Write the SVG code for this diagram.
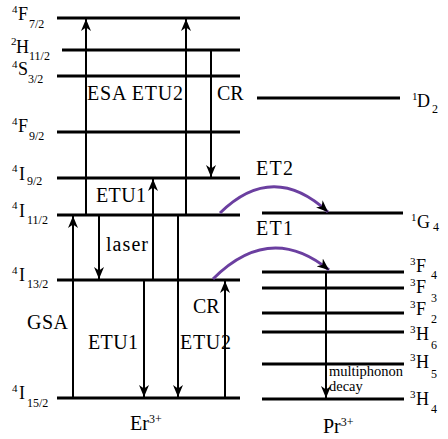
<svg xmlns="http://www.w3.org/2000/svg" width="448" height="439" viewBox="0 0 448 439">
<style>
.lvl{stroke:#000;stroke-width:3;fill:none}
.arr{stroke:#000;stroke-width:2;fill:none;marker-end:url(#ah)}
.et{stroke:#6b3fa0;stroke-width:3;fill:none;marker-end:url(#ah)}
text{font-family:"Liberation Serif","DejaVu Serif",serif;fill:#000}
.lb{font-size:20px}
.st{font-size:18px}
.sm{font-size:12px}
.ss{font-size:11px}
.mp{font-size:14.5px}
</style>
<defs>
<marker id="ah" markerUnits="userSpaceOnUse" viewBox="0 0 12 10" refX="12" refY="5" markerWidth="12" markerHeight="10" orient="auto">
<path d="M0,0 L12,5 L0,10 L3.5,5 Z" fill="#000"/>
</marker>
</defs>
<rect width="448" height="439" fill="#fff"/>
<g id="er-levels">
<g id="er-4F72"><line class="lvl" x1="57" y1="18" x2="240" y2="18"/><text class="st"><tspan class="ss" x="12" y="13">4</tspan><tspan x="18" y="20">F</tspan><tspan class="sm" x="29" y="28">7/2</tspan></text></g>
<g id="er-2H112"><line class="lvl" x1="62" y1="50" x2="240" y2="50"/><text class="st"><tspan class="ss" x="11" y="45">2</tspan><tspan x="16" y="53">H</tspan><tspan class="sm" x="29" y="60">11/2</tspan></text></g>
<g id="er-4S32"><line class="lvl" x1="57" y1="76" x2="240" y2="76"/><text class="st"><tspan class="ss" x="12" y="68">4</tspan><tspan x="18" y="75">S</tspan><tspan class="sm" x="28" y="83">3/2</tspan></text></g>
<g id="er-4F92"><line class="lvl" x1="57" y1="132" x2="240" y2="132"/><text class="st"><tspan class="ss" x="12" y="125">4</tspan><tspan x="18" y="132">F</tspan><tspan class="sm" x="29" y="140">9/2</tspan></text></g>
<g id="er-4I92"><line class="lvl" x1="57" y1="178" x2="240" y2="178"/><text class="st"><tspan class="ss" x="12" y="172">4</tspan><tspan x="19" y="180">I</tspan><tspan class="sm" x="27" y="185">9/2</tspan></text></g>
<g id="er-4I112"><line class="lvl" x1="57" y1="215" x2="240" y2="215"/><text class="st"><tspan class="ss" x="12" y="209">4</tspan><tspan x="19" y="217">I</tspan><tspan class="sm" x="27" y="224">11/2</tspan></text></g>
<g id="er-4I132"><line class="lvl" x1="57" y1="280" x2="240" y2="280"/><text class="st"><tspan class="ss" x="12" y="274">4</tspan><tspan x="19" y="281">I</tspan><tspan class="sm" x="27" y="288">13/2</tspan></text></g>
<g id="er-4I152"><line class="lvl" x1="57" y1="398" x2="240" y2="398"/><text class="st"><tspan class="ss" x="12" y="392">4</tspan><tspan x="19" y="399">I</tspan><tspan class="sm" x="27" y="407">15/2</tspan></text></g>
</g>
<g id="pr-levels">
<g id="pr-1D2"><line class="lvl" x1="257" y1="98" x2="400" y2="98"/><text class="st"><tspan class="ss" x="412" y="100">1</tspan><tspan x="417" y="107">D</tspan><tspan class="sm" x="432" y="113">2</tspan></text></g>
<g id="pr-1G4"><line class="lvl" x1="262" y1="213" x2="403" y2="213"/><text class="st"><tspan class="ss" x="411" y="221">1</tspan><tspan x="417" y="228">G</tspan><tspan class="sm" x="433" y="231">4</tspan></text></g>
<g id="pr-3F4"><line class="lvl" x1="262" y1="272" x2="404" y2="272"/><text class="st"><tspan class="ss" x="410" y="265">3</tspan><tspan x="416" y="272">F</tspan><tspan class="sm" x="431" y="279">4</tspan></text></g>
<g id="pr-3F3"><line class="lvl" x1="262" y1="288" x2="404" y2="288"/><text class="st"><tspan class="ss" x="410" y="286">3</tspan><tspan x="416" y="293">F</tspan><tspan class="sm" x="431" y="302">3</tspan></text></g>
<g id="pr-3F2"><line class="lvl" x1="262" y1="313" x2="404" y2="313"/><text class="st"><tspan class="ss" x="410" y="308">3</tspan><tspan x="416" y="315">F</tspan><tspan class="sm" x="431" y="323">2</tspan></text></g>
<g id="pr-3H6"><line class="lvl" x1="262" y1="332" x2="404" y2="332"/><text class="st"><tspan class="ss" x="410" y="333">3</tspan><tspan x="416" y="340">H</tspan><tspan class="sm" x="431" y="349">6</tspan></text></g>
<g id="pr-3H5"><line class="lvl" x1="262" y1="364" x2="404" y2="364"/><text class="st"><tspan class="ss" x="410" y="361">3</tspan><tspan x="416" y="368">H</tspan><tspan class="sm" x="431" y="378">5</tspan></text></g>
<g id="pr-3H4"><line class="lvl" x1="262" y1="399" x2="404" y2="399"/><text class="st"><tspan class="ss" x="410" y="398">3</tspan><tspan x="416" y="405">H</tspan><tspan class="sm" x="431" y="413">4</tspan></text></g>
</g>
<g id="connectors">
<path class="arr" d="M86,215 V19"/>
<path class="arr" d="M186,215 V19"/>
<path class="arr" d="M211,50 V177"/>
<path class="arr" d="M153,280 V179"/>
<path class="arr" d="M73,398 V216"/>
<path class="arr" d="M99,215 V279"/>
<path class="arr" d="M144,280 V397"/>
<path class="arr" d="M178,215 V397"/>
<path class="arr" d="M225,398 V281"/>
<path class="arr" d="M326,272 V398"/>
<path class="et" d="M220,213 Q273,161 328,212"/>
<path class="et" d="M213,279 Q270,222 329,270"/>
</g>
<g id="labels">
<text class="lb" x="87" y="100" textLength="96">ESA ETU2</text>
<text class="lb" x="217" y="100">CR</text>
<text class="lb" x="96" y="202" textLength="50">ETU1</text>
<text class="lb" x="106" y="251" textLength="42">laser</text>
<text class="lb" x="27" y="329" textLength="41">GSA</text>
<text class="lb" x="88" y="349" textLength="50">ETU1</text>
<text class="lb" x="180" y="349" textLength="51">ETU2</text>
<text class="lb" x="193" y="313">CR</text>
<text class="lb" x="256" y="175" textLength="37">ET2</text>
<text class="lb" x="256" y="235" textLength="37">ET1</text>
<text class="mp" x="329" y="376">multiphonon</text>
<text class="mp" x="329" y="391">decay</text>
<text class="lb" x="130" y="430">Er<tspan class="sm" dy="-7">3+</tspan></text>
<text class="lb" x="323" y="433">Pr<tspan class="sm" dy="-7">3+</tspan></text>
</g>
</svg>
